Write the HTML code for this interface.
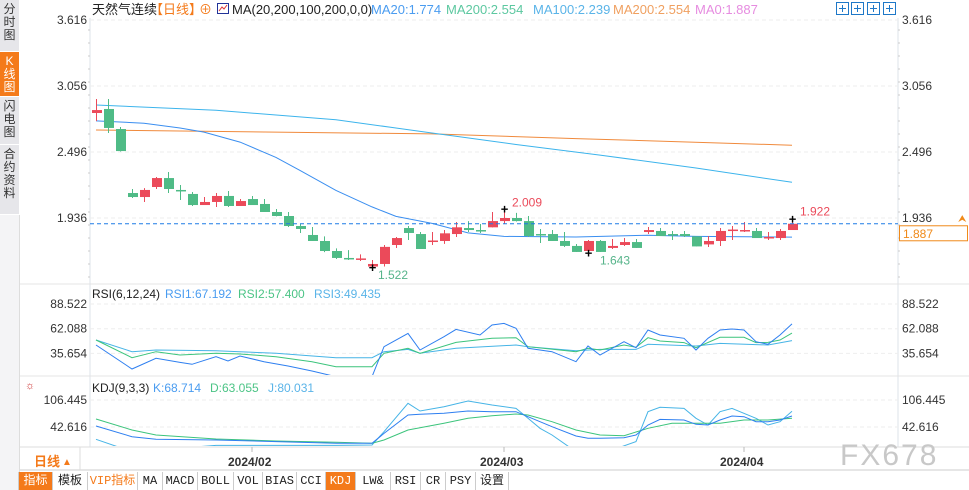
<!DOCTYPE html>
<html><head><meta charset="utf-8">
<style>
html,body{margin:0;padding:0;background:#fff;width:969px;height:490px;overflow:hidden;font-family:"Liberation Sans","Noto Sans CJK SC",sans-serif;}
#wrap{position:relative;width:969px;height:490px;}
svg{position:absolute;left:0;top:0;}
.side{position:absolute;left:0;width:19px;font-size:12px;line-height:13px;text-align:center;color:#333;background:#e6e6ea;border-bottom:1px solid #fff;box-sizing:border-box;padding-top:3px;}
.tb{position:absolute;top:472px;height:18px;font-family:"Liberation Mono","Noto Sans CJK SC",monospace;font-size:12px;line-height:18px;text-align:center;color:#222;border-left:1px solid #ccc;box-sizing:border-box;background:#fff;}
</style></head><body>
<div id="wrap">
<div class="side" style="top:0;height:52px">分<br>时<br>图</div>
<div class="side" style="top:52px;height:45px;background:#f47a1a;color:#fff">K<br>线<br>图</div>
<div class="side" style="top:97px;height:48px">闪<br>电<br>图</div>
<div class="side" style="top:145px;height:70px">合<br>约<br>资<br>料</div>
<div style="position:absolute;left:0;top:215px;width:19px;height:275px;background:#f4f4f6;border-right:1px solid #ddd"></div>
<svg id="chart" width="969" height="490"></svg>
<div class="tb" style="left:18px;width:34px;background:#f47a1a;color:#fff">指标</div>
<div class="tb" style="left:52px;width:35px">模板</div>
<div class="tb" style="left:87px;width:50px;color:#f47a1a">VIP指标</div>
<div class="tb" style="left:137px;width:25px">MA</div>
<div class="tb" style="left:162px;width:35px">MACD</div>
<div class="tb" style="left:197px;width:36px">BOLL</div>
<div class="tb" style="left:233px;width:29px">VOL</div>
<div class="tb" style="left:262px;width:34px">BIAS</div>
<div class="tb" style="left:296px;width:29px">CCI</div>
<div class="tb" style="left:325px;width:30px;background:#f47a1a;color:#fff">KDJ</div>
<div class="tb" style="left:355px;width:35px">LW&amp;</div>
<div class="tb" style="left:390px;width:30px">RSI</div>
<div class="tb" style="left:420px;width:25px">CR</div>
<div class="tb" style="left:445px;width:30px">PSY</div>
<div class="tb" style="left:475px;width:34px;border-right:1px solid #ccc">设置</div>
</div>
<script>
// ---- data ----
const opens  =[2.827,2.861,2.691,2.148,2.114,2.199,2.275,2.174,2.140,2.046,2.072,2.123,2.038,2.097,2.055,1.987,1.953,1.868,1.792,1.741,1.656,1.597,1.585,1.524,1.546,1.707,1.851,1.800,1.737,1.741,1.800,1.851,1.834,1.857,1.910,1.936,1.910,1.800,1.800,1.741,1.699,1.656,1.741,1.682,1.707,1.732,1.817,1.826,1.800,1.800,1.780,1.712,1.741,1.830,1.830,1.826,1.767,1.766,1.834];
const highs  =[2.946,2.946,2.708,2.182,2.190,2.284,2.326,2.216,2.157,2.114,2.148,2.165,2.097,2.123,2.097,2.012,1.987,1.885,1.860,1.780,1.678,1.664,1.627,1.580,1.707,1.775,1.868,1.817,1.817,1.834,1.902,1.910,1.885,1.987,2.009,1.979,1.953,1.843,1.834,1.817,1.715,1.749,1.749,1.758,1.766,1.758,1.860,1.851,1.826,1.826,1.780,1.783,1.851,1.868,1.902,1.851,1.817,1.843,1.922];
const lows   =[2.759,2.657,2.500,2.106,2.072,2.182,2.148,2.089,2.038,2.046,2.029,2.029,2.038,2.046,1.987,1.950,1.860,1.809,1.741,1.647,1.588,1.580,1.571,1.522,1.525,1.681,1.749,1.673,1.707,1.716,1.775,1.817,1.809,1.857,1.885,1.906,1.775,1.724,1.741,1.690,1.648,1.643,1.648,1.673,1.699,1.682,1.800,1.783,1.749,1.775,1.695,1.690,1.699,1.749,1.817,1.766,1.749,1.749,1.834];
const closes =[2.852,2.700,2.504,2.114,2.174,2.275,2.182,2.170,2.046,2.072,2.123,2.038,2.080,2.046,1.987,1.953,1.868,1.843,1.741,1.656,1.597,1.585,1.593,1.546,1.691,1.766,1.809,1.673,1.745,1.806,1.857,1.834,1.830,1.910,1.936,1.910,1.783,1.796,1.741,1.699,1.648,1.741,1.648,1.699,1.732,1.682,1.834,1.783,1.792,1.783,1.695,1.741,1.826,1.838,1.834,1.766,1.775,1.826,1.887];
const ma20Idx=[0,4,7,9,12,15,17,20,23,25,28,31,34,40,46,50,58];
const ma20Val=[2.760,2.740,2.700,2.665,2.580,2.450,2.340,2.170,2.030,1.950,1.890,1.810,1.780,1.775,1.790,1.780,1.774];
const ma100Idx=[0,10,20,28,35,42,50,58];
const ma100Val=[2.895,2.850,2.770,2.657,2.560,2.470,2.360,2.239];
const ma200Idx=[0,28,40,58];
const ma200Val=[2.683,2.650,2.610,2.554];
const priceTicks=[3.616,3.056,2.496,1.936];
const lastPrice=1.887;
const rsi1Idx=[0,3,5,7,8,10,11,12,14,16,18,20,23,24,26,27,29,30,32,33,34,35,36,38,40,41,42,44,45,46,47,49,50,51,52,53,54,55,56,57,58];
const rsi1Val=[44.7,19.0,30.4,26.1,24.0,32.2,27.6,32.9,26.8,22.2,16.9,10.8,10.8,42.9,57.1,39.3,53.6,61.4,55.4,66.1,67.8,62.5,41.1,37.5,26.8,43.6,34.0,48.2,41.8,60.7,55.4,51.8,39.3,51.8,60.7,61.8,60.7,48.2,45.4,55.4,67.2];
const rsi2Idx=[0,3,5,7,10,12,15,18,20,23,24,26,27,30,33,35,36,40,41,42,44,45,46,47,49,50,52,54,55,56,57,58];
const rsi2Val=[50.0,31.1,37.5,34.0,35.8,35.0,32.2,26.8,21.5,21.5,35.8,41.1,35.8,47.5,51.8,52.5,42.9,37.5,41.1,39.3,44.7,42.2,52.5,48.9,47.2,41.8,52.9,52.9,47.2,47.5,50.0,57.4];
const rsi3Idx=[0,3,5,10,15,20,23,24,26,27,30,35,36,40,42,45,46,50,52,56,58];
const rsi3Val=[50.0,37.5,39.3,38.6,35.8,31.1,31.1,37.5,40.0,35.8,41.1,44.7,42.9,38.6,40.0,40.0,45.4,43.6,46.4,44.7,49.4];
const rsiTicks=[88.522,62.088,35.654];
const kIdx=[0,3,5,10,15,20,23,24,26,27,29,31,33,35,36,38,40,41,42,44,45,46,47,49,50,51,52,53,54,55,56,57,58];
const kVal=[45.0,19.8,13.5,11.9,8.0,4.0,4.0,27.6,71.0,72.6,75.0,80.4,78.9,78.9,67.0,43.4,21.3,15.8,15.8,17.4,23.7,47.3,60.7,59.1,48.9,47.3,59.1,68.6,67.0,55.2,55.2,59.1,68.7];
const dIdx=[0,3,5,10,15,20,23,24,26,29,31,33,35,36,38,40,42,44,46,48,50,52,54,56,58];
const dVal=[61.5,35.5,23.7,14.2,9.5,6.4,4.0,11.9,35.5,51.3,63.1,69.4,73.3,71.0,55.2,35.5,23.7,22.1,39.5,51.3,51.3,51.3,59.1,59.1,63.1];
const jIdx=[0,3,10,20,23,24,26,27,29,31,33,35,36,37,38,40,43,45,46,47,49,50,51,52,53,55,56,57,58];
const jVal=[13.5,-15.7,-1,-1,0,31.6,98.6,80.4,90.7,104.1,94.6,86.7,63.1,39.5,23.7,-15.7,-12,8.0,78.9,89.1,86.7,63.1,47.3,78.9,86.7,63.1,47.3,55.2,80.0];
const kdjTicks=[106.445,42.616];
const dateLabels=["2024/02","2024/03","2024/04"];
const dateIdx=[13,34,54];

// ---- scales ----
const NS="http://www.w3.org/2000/svg";
const svg=document.getElementById('chart');
const xOf=i=>96+12*i;
const yP=v=>20+(3.616-v)*117.86;
const yR=v=>304+(88.522-v)*0.935;
const yK=v=>400+(106.445-v)*0.423;
function mk(tag,attrs,parent){const e=document.createElementNS(NS,tag);for(const k in attrs)e.setAttribute(k,attrs[k]);(parent||svg).appendChild(e);return e;}
function txt(x,y,s,fill,size,anchor,weight){const t=mk('text',{x:x,y:y,fill:fill,'font-size':size||12,'text-anchor':anchor||'start','font-family':'"Liberation Sans","Noto Sans CJK SC",sans-serif'});if(weight)t.setAttribute('font-weight',weight);t.textContent=s;return t;}

// frame
const frame=mk('g',{});


mk('line',{x1:90,y1:18,x2:90,y2:447,stroke:'#dde3ea'},frame);
mk('line',{x1:898,y1:18,x2:898,y2:447,stroke:'#dde3ea'},frame);
mk('line',{x1:20,y1:284,x2:969,y2:284,stroke:'#e4e4e4'},frame);
mk('line',{x1:20,y1:376,x2:969,y2:376,stroke:'#e4e4e4'},frame);
mk('line',{x1:20,y1:447,x2:969,y2:447,stroke:'#ddd'},frame);
mk('line',{x1:20,y1:470,x2:969,y2:470,stroke:'#ccc'},frame);
mk('line',{x1:80,y1:447,x2:80,y2:470,stroke:'#ddd'},frame);
for(let y=30;y<280;y+=13){mk('line',{x1:88,y1:y,x2:90,y2:y,stroke:'#ccc'},frame);mk('line',{x1:898,y1:y,x2:900,y2:y,stroke:'#ccc'},frame);}

// price ticks + grid
priceTicks.forEach(v=>{const y=yP(v);
 const g=mk('line',{x1:90,y1:y,x2:898,y2:y,stroke:'#eee','stroke-dasharray':'4,3'});
 
 const a=txt(87,y+4,v.toFixed(3),'#333',12,'end');
 const b=txt(902,y+4,v.toFixed(3),'#333',12);});

// MA lines
function poly(idx,val,ys,color,name,w){const pts=idx.map((i,k)=>xOf(i)+','+ys(val[k]).toFixed(1)).join(' ');
 const p=mk('polyline',{points:pts,fill:'none',stroke:color,'stroke-width':w||1});
 return p;}
poly(ma200Idx,ma200Val,yP,'#f08a3c','ma200-line');
poly(ma100Idx,ma100Val,yP,'#3cb4ec','ma100-line');
poly(ma20Idx,ma20Val,yP,'#3a8ef0','ma20-line');

// candles
const cg=mk('g',{});
closes.forEach((c,i)=>{const o=opens[i],x=xOf(i);const up=c>=o;const col=up?'#eb4a5a':'#4fbb86';
 const w=mk('line',{x1:x+0.5,y1:yP(highs[i]),x2:x+0.5,y2:yP(lows[i]),stroke:col},cg);
 
 const top=yP(Math.max(o,c)),h=Math.max(1.5,Math.abs(yP(o)-yP(c)));
 const r=mk('rect',{x:x-4,y:top,width:10,height:h,fill:col},cg);
 });

// last price line
const lp=mk('line',{x1:90,y1:yP(lastPrice),x2:898,y2:yP(lastPrice),stroke:'#1e7be6','stroke-dasharray':'4,3'});

const lb=mk('rect',{x:899.5,y:yP(lastPrice)+2,width:68,height:15,fill:'#fff',stroke:'#f08a1a'});

const lt=txt(903,yP(lastPrice)+14,lastPrice.toFixed(3),'#f08a1a',12);
const arr=txt(958,yP(lastPrice)-2,'⮝','#f08a1a',10);

// extreme annotations
function mark(i,v,label,col,dx,dy){const x=xOf(i),y=yP(v);
 const m=txt(x+0.5,y+(dy>0?5:4),'+','#000',13,'middle','bold');
 const t=txt(x+dx,y+dy,label,col,12);}
mark(23,lows[23],lows[23].toFixed(3),'#56b48a',6,12);
mark(34,highs[34],highs[34].toFixed(3),'#eb4a5a',8,-3);
mark(41,lows[41],lows[41].toFixed(3),'#56b48a',12,12);
mark(58,highs[58],highs[58].toFixed(3),'#eb4a5a',8,-4);

// top legend
[[92,'天然气连续','#222'],[150,'【日线】','#f47a1a'],[199,'⊕','#f47a1a'],[232,'MA(20,200,100,200,0,0)','#222'],[371,'MA20:1.774','#4a9cf0'],[446,'MA200:2.554','#5cc8a0'],[533,'MA100:2.239','#5ab4e8'],[613,'MA200:2.554','#f0a060'],[695,'MA0:1.887','#e68ce0']].forEach(a=>{const t=txt(a[0],14,a[1],a[2],13);});
const ic=mk('rect',{x:217.5,y:3.5,width:11,height:10,fill:'#fff',stroke:'#223399'});
mk('polyline',{points:'219,11 222,7 224,9 227,5',fill:'none',stroke:'#d33'});
[836,851,867,883].forEach(x=>{const b=mk('rect',{x:x+0.5,y:2.5,width:12,height:12,fill:'#fff',stroke:'#1e78c8'});
 mk('line',{x1:x+3,y1:8.5,x2:x+10,y2:8.5,stroke:'#1e78c8'});mk('line',{x1:x+6.5,y1:5,x2:x+6.5,y2:12,stroke:'#1e78c8'});});

// RSI panel
rsiTicks.forEach(v=>{const y=yR(v);mk('line',{x1:90,y1:y,x2:898,y2:y,stroke:'#eee','stroke-dasharray':'4,3'});
 const a=txt(87,y+4,v.toFixed(3),'#333',12,'end');
 const b=txt(902,y+4,v.toFixed(3),'#333',12);});
[[92,'RSI(6,12,24)','#222'],[165,'RSI1:67.192','#4a9cf0'],[238,'RSI2:57.400','#4cc486'],[314,'RSI3:49.435','#5ab4e8']].forEach(a=>{const t=txt(a[0],298,a[1],a[2],12);});
const clipR=mk('clipPath',{id:'cr'});mk('rect',{x:90,y:285,width:808,height:90},clipR);
const clipK=mk('clipPath',{id:'ck'});mk('rect',{x:90,y:377,width:808,height:69},clipK);
poly(rsi3Idx,rsi3Val,yR,'#46b4e6','rsi3-line').setAttribute('clip-path','url(#cr)');
poly(rsi2Idx,rsi2Val,yR,'#3cc47c','rsi2-line').setAttribute('clip-path','url(#cr)');
poly(rsi1Idx,rsi1Val,yR,'#2e7ff0','rsi1-line').setAttribute('clip-path','url(#cr)');

// KDJ panel
kdjTicks.forEach(v=>{const y=yK(v);mk('line',{x1:90,y1:y,x2:898,y2:y,stroke:'#eee','stroke-dasharray':'4,3'});
 const a=txt(87,y+4,v.toFixed(3),'#333',12,'end');
 const b=txt(902,y+4,v.toFixed(3),'#333',12);});
[[92,'KDJ(9,3,3)','#222'],[153,'K:68.714','#4a9cf0'],[210,'D:63.055','#4cc486'],[268,'J:80.031','#5ab4e8']].forEach(a=>{const t=txt(a[0],392,a[1],a[2],12);});
const sun=txt(30,389,'☼','#c33',11,'middle');
poly(jIdx,jVal,yK,'#46b4e6','j-line').setAttribute('clip-path','url(#ck)');
poly(dIdx,dVal,yK,'#3cc47c','d-line').setAttribute('clip-path','url(#ck)');
poly(kIdx,kVal,yK,'#2e7ff0','k-line').setAttribute('clip-path','url(#ck)');

// date axis
dateLabels.forEach((d,k)=>{const x=xOf(dateIdx[k]);mk('line',{x1:x,y1:447,x2:x,y2:452,stroke:'#bbb'});
 const t=txt(x-24,466,d,'#333',12,'start','bold');});
const per=txt(34,466,'日线','#f47a1a',13,'start','bold');
txt(62,465,'▲','#f47a1a',10);
const wm=txt(840,465,'FX678','#c8c8c8',30);wm.setAttribute('letter-spacing','2');
</script>
</body></html>
